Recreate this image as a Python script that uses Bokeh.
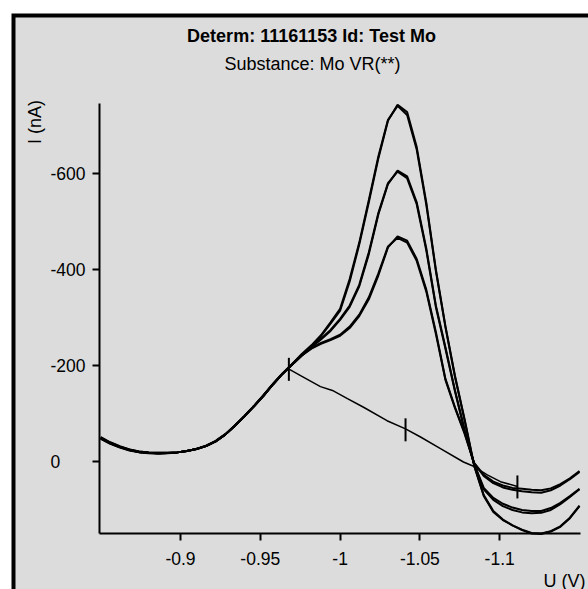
import math
from bokeh.plotting import figure
from bokeh.models import Range1d, FixedTicker, Label, BoxAnnotation
from bokeh.embed import file_html
from bokeh.resources import INLINE

# ---------------- data ----------------
potential_v = [-0.85, -0.856, -0.862, -0.868, -0.874, -0.88, -0.886, -0.892, -0.898, -0.904,
               -0.91, -0.916, -0.922, -0.928, -0.934, -0.94, -0.946, -0.952, -0.958, -0.964,
               -0.97, -0.976, -0.982, -0.988, -0.994, -1.0, -1.006, -1.012, -1.018, -1.024,
               -1.03, -1.036, -1.042, -1.048, -1.054, -1.06, -1.066, -1.072, -1.078, -1.084,
               -1.09, -1.096, -1.102, -1.108, -1.114, -1.12, -1.126, -1.132, -1.138, -1.144, -1.15]

add2_a = [-48, -38, -30, -24, -20, -18, -17, -17.5, -19, -22, -26, -32, -42, -56, -74, -94, -115, -137, -161, -183, -202,
          -222, -240, -261, -287, -314, -375, -452, -540, -632, -710, -743, -728, -655, -540, -400, -282, -178, -88, 8,
          72, 105, 122, 133, 142, 149, 150, 145, 135, 117, 92]
add2_b = [-51, -40, -32, -25, -21, -19, -18, -18, -19, -22, -26, -33, -43, -57, -75, -95, -116, -138, -162, -184, -203,
          -224, -242, -263, -290, -318, -380, -456, -545, -636, -712, -741, -722, -650, -535, -397, -280, -176, -86, 9,
          70, 103, 121, 133, 143, 150, 151, 146, 136, 118, 93]
add1_a = [-48, -38, -30, -24, -20, -18, -17, -17.5, -19, -22, -26, -32, -42, -56, -74, -94, -115, -137, -161, -183, -202,
          -221, -238, -254, -272, -295, -322, -365, -432, -515, -578, -606, -594, -540, -444, -325, -238, -148, -66, 5,
          55, 76, 88, 96, 101, 103, 103, 97, 86, 72, 57]
add1_b = [-50, -39, -31, -25, -21, -19, -18, -18, -19, -22, -26, -33, -42, -56, -75, -94, -115, -138, -161, -183, -203,
          -222, -239, -256, -274, -297, -325, -368, -436, -518, -580, -604, -590, -536, -440, -322, -235, -146, -64, 6,
          58, 80, 93, 101, 106, 108, 107, 101, 89, 74, 58]
sample_a = [-47, -37, -29, -23, -19, -17, -16, -17, -19, -22, -26, -32, -42, -56, -74, -94, -115, -137, -161, -183, -202,
            -221, -235, -245, -253, -262, -278, -303, -338, -388, -446, -469, -460, -422, -358, -270, -172, -113, -60, 3,
            28, 42, 50, 55, 57, 59, 60, 56, 47, 35, 20]
sample_b = [-49, -39, -31, -24, -20, -18, -17, -17.5, -19, -22, -26, -32, -42, -56, -74, -94, -115, -137, -161, -183, -202,
            -221, -236, -247, -255, -264, -281, -306, -342, -392, -448, -466, -456, -418, -354, -266, -170, -111, -58, 4,
            30, 45, 54, 59, 62, 64, 65, 60, 50, 37, 22]

baseline_v = [-0.9677, -0.9758, -0.9877, -0.9952, -1.0046, -1.0147, -1.0294, -1.041, -1.0504, -1.0629,
              -1.0773, -1.0836, -1.0922, -1.1005, -1.1111]
baseline_i = [-193, -178, -156, -148, -131, -113, -85, -68, -51, -27, 1, 10, 28, 42, 52]
marks_v = [-0.9679, -1.041, -1.1111]
marks_i = [-192, -66, 53]

u_ticks = [-0.9, -0.95, -1.0, -1.05, -1.1]
u_tick_labels = ["-0.9", "-0.95", "-1", "-1.05", "-1.1"]
i_ticks = [-600, -400, -200, 0]
i_tick_labels = ["-600", "-400", "-200", "0"]

u_limits = (-0.849, -1.1506)
i_limits = (150.6, -745.8)

title_text = "Determ: 11161153 Id: Test Mo"
subtitle_text = "Substance: Mo VR(**)"
x_label = "U (V)"
y_label = "I (nA)"

# ---------------- layout helpers (page pixels -> data) ----------------
PX_PER_V = 1596.0
PX_PER_NA = 0.48


def u_at(px):
    return -0.9 - (px - 180) / PX_PER_V


def i_at(py):
    return (py - 461) / PX_PER_NA


FONT = "Liberation Sans"
GREY = "#DCDCDC"
W, H = 588, 589

# the frame fills the whole canvas
p = figure(width=W, height=H, output_backend="svg", toolbar_location=None,
           x_range=Range1d(u_at(0), u_at(W)), y_range=Range1d(i_at(H), i_at(0)),
           min_border=0, min_border_left=0, min_border_right=0,
           min_border_top=0, min_border_bottom=0)
p.background_fill_color = "white"
p.border_fill_color = "white"
p.outline_line_color = None
p.grid.visible = False

# panel frame: black edge on the left and top, grey inside
p.add_layout(BoxAnnotation(left=u_at(11), right=u_at(W + 4), top=i_at(13), bottom=i_at(H + 4),
                           fill_color="black", fill_alpha=1, line_color=None, level="underlay"))
p.add_layout(BoxAnnotation(left=u_at(15), right=u_at(W + 4), top=i_at(17), bottom=i_at(H + 4),
                           fill_color=GREY, fill_alpha=1, line_color=None, level="underlay"))

xa = p.xaxis[0]
ya = p.yaxis[0]
xa.fixed_location = i_limits[0]
xa.bounds = (min(u_limits), max(u_limits))
ya.fixed_location = u_limits[0]
ya.bounds = (min(i_limits), max(i_limits))
xa.ticker = FixedTicker(ticks=u_ticks)
xa.major_label_overrides = dict(zip(u_ticks, u_tick_labels))
ya.ticker = FixedTicker(ticks=i_ticks)
ya.major_label_overrides = {t: "" for t in i_ticks}
for ax in (xa, ya):
    ax.axis_line_width = 2
    ax.axis_line_color = "black"
    ax.major_tick_line_width = 2
    ax.major_tick_line_color = "black"
    ax.major_tick_out = 7
    ax.major_tick_in = 0
    ax.minor_tick_out = 0
    ax.minor_tick_in = 0
    ax.major_label_text_font = FONT
    ax.major_label_text_font_size = "17.5px"
    ax.major_label_text_color = "black"
xa.major_label_standoff = 11

for series in (sample_a, sample_b, add1_a, add1_b, add2_a, add2_b):
    p.line(potential_v, series, line_color="black", line_width=2)

p.line(baseline_v, baseline_i, line_color="black", line_width=1.5)
p.scatter(marks_v, marks_i, marker="dash", angle=math.pi / 2, size=23,
          line_color="black", line_width=2)

# ---- texts ----
p.add_layout(Label(x=u_at(311), y=i_at(35), text=title_text, text_font=FONT, text_font_size="18px",
                   text_font_style="bold", text_color="black", text_align="center", text_baseline="middle"))
p.add_layout(Label(x=u_at(312), y=i_at(63), text=subtitle_text, text_font=FONT, text_font_size="18px",
                   text_color="black", text_align="center", text_baseline="middle"))
p.add_layout(Label(x=u_at(34.5), y=i_at(121.5), text=y_label, text_font=FONT, text_font_size="18px",
                   text_color="black", angle=math.pi / 2, text_align="center", text_baseline="middle"))
p.add_layout(Label(x=u_at(585), y=i_at(580), text=x_label, text_font=FONT, text_font_size="18px",
                   text_color="black", text_align="right", text_baseline="middle"))
for t, lab in zip(i_ticks, i_tick_labels):
    p.add_layout(Label(x=u_at(50), y=t, text=lab, text_font=FONT, text_font_size="17.5px",
                       text_color="black", text_align="left", text_baseline="middle"))

open("out.html", "w").write(file_html(p, INLINE))
